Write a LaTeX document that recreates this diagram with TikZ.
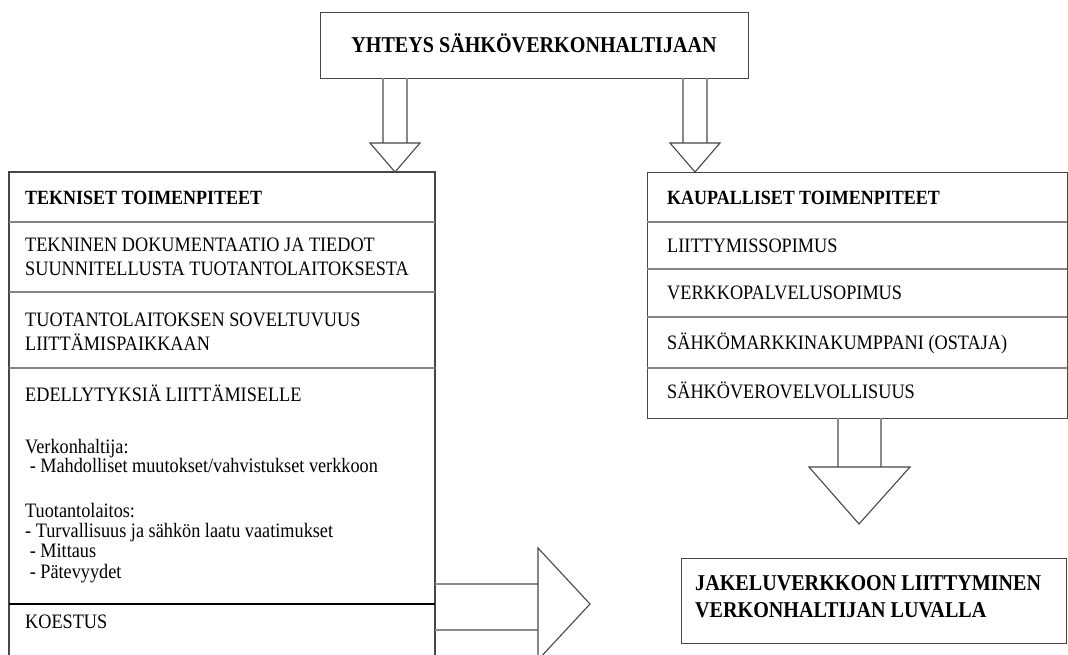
\documentclass[tikz,border=0pt]{standalone}
\usepackage{fontspec}
% narrow the face a little so the letters stand taller for their width
\setmainfont{Liberation Serif}[FakeStretch=0.89]
\definecolor{framegray}{HTML}{474747}
\definecolor{rulegray}{HTML}{858585}
\definecolor{shaftgray}{HTML}{8A8A8A}
\begin{document}
\begin{tikzpicture}[x=1pt,y=-1pt,
  frame/.style={draw=framegray, line width=1.2pt},
  rule/.style={draw=rulegray, line width=1.2pt},
  shaft/.style={draw=shaftgray, line width=1.2pt},
  head/.style={draw=framegray, line width=1.1pt, line join=miter, fill=white},
  boxnode/.style={frame, inner sep=0pt, anchor=north west},
  txt/.style={anchor=base west, inner sep=0pt, font=\fontsize{20.5}{24}\selectfont},
  hdr/.style={anchor=base west, inner sep=0pt, font=\fontsize{20.2}{24}\selectfont\bfseries},
  big/.style={anchor=base west, inner sep=0pt, font=\fontsize{22.6}{27}\selectfont\bfseries},
]
\useasboundingbox (0,0) rectangle (1068,654);
\clip (0,0) rectangle (1068,654);

% top box
\node[boxnode, minimum width=428pt, minimum height=66pt] (top) at (320,12) {};
\node[anchor=base, inner sep=0pt, font=\fontsize{22.6}{26}\selectfont\bfseries] (toptxt)
  at (534,52) {YHTEYS SÄHKÖVERKONHALTIJAAN};

% left column: technical measures (runs past the lower edge)
\coordinate (tl) at (9,172);
\coordinate (tr) at (435,172);
\draw[frame] (9,680) -- (tl) -- (tr) -- (435,680);
\draw[rule] (9,222) -- (435,222);
\draw[rule] (9,292) -- (435,292);
\draw[rule] (9,368) -- (435,368);
\draw[draw=black, line width=1.2pt] (9,604) -- (435,604);

\node[hdr] (t0) at (25,204) {TEKNISET TOIMENPITEET};
\node[txt] (t1a) at (25,251) {TEKNINEN DOKUMENTAATIO JA TIEDOT};
\node[txt] (t1b) at (25,275) {SUUNNITELLUSTA TUOTANTOLAITOKSESTA};
\node[txt] (t2a) at (25,326) {TUOTANTOLAITOKSEN SOVELTUVUUS};
\node[txt] (t2b) at (25,350) {LIITTÄMISPAIKKAAN};
\node[txt] (t3) at (25,401) {EDELLYTYKSIÄ LIITTÄMISELLE};
\node[txt] (t3a) at (25,453) {Verkonhaltija:};
\node[txt] (t3b) at (25,472) {\ - Mahdolliset muutokset/vahvistukset verkkoon};
\node[txt] (t3c) at (25,517) {Tuotantolaitos:};
\node[txt] (t3d) at (25,537) {- Turvallisuus ja sähkön laatu vaatimukset};
\node[txt] (t3e) at (25,557) {\ - Mittaus};
\node[txt] (t3f) at (25,578) {\ - Pätevyydet};
\node[txt] (t4) at (25,628) {KOESTUS};

% right column: commercial measures
\node[boxnode, minimum width=420pt, minimum height=246pt] (comm) at (647,172) {};
\draw[rule] (647,222) -- (1067,222);
\draw[rule] (647,269) -- (1067,269);
\draw[rule] (647,317) -- (1067,317);
\draw[rule] (647,368) -- (1067,368);
\node[hdr] (c0) at (667,204) {KAUPALLISET TOIMENPITEET};
\node[txt] (c1) at (667,252) {LIITTYMISSOPIMUS};
\node[txt] (c2) at (667,299) {VERKKOPALVELUSOPIMUS};
\node[txt] (c3) at (667,349) {SÄHKÖMARKKINAKUMPPANI (OSTAJA)};
\node[txt] (c4) at (667,398) {SÄHKÖVEROVELVOLLISUUS};

% result box
\node[boxnode, minimum width=385pt, minimum height=85pt] (res) at (681,558) {};
\node[big] (r1) at (695,590) {JAKELUVERKKOON LIITTYMINEN};
\node[big] (r2) at (695,617) {VERKONHALTIJAN LUVALLA};

% block arrows: top box -> both columns
\draw[shaft] (383,78) -- (383,143);
\draw[shaft] (407,78) -- (407,143);
\draw[head] (370,143) -- (420,143) -- (395,172) -- cycle;
\draw[shaft] (683,78) -- (683,143);
\draw[shaft] (707,78) -- (707,143);
\draw[head] (670,143) -- (720,143) -- (695,172) -- cycle;

% commercial column -> result box
\draw[shaft] (838,418) -- (838,467);
\draw[shaft] (881,418) -- (881,467);
\draw[head] (809,467) -- (910,467) -- (859,524) -- cycle;

% technical column -> right
\draw[shaft] (435,584) -- (538,584);
\draw[shaft] (435,630) -- (538,630);
\draw[head] (538,548) -- (590,604) -- (538,660) -- cycle;
\end{tikzpicture}
\end{document}
